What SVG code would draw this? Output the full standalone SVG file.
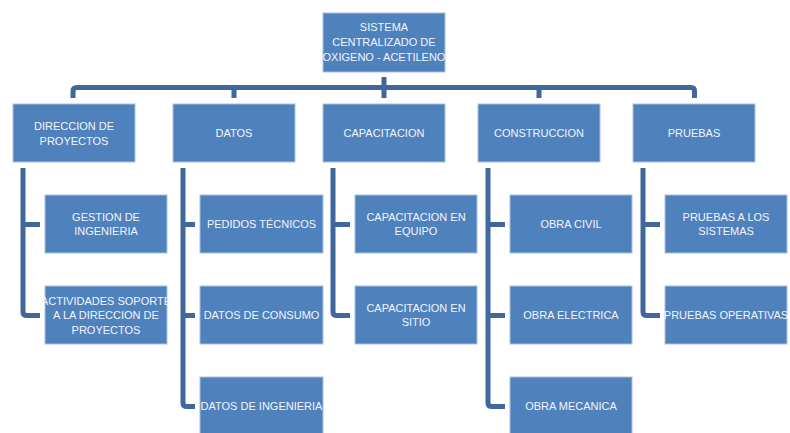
<svg xmlns="http://www.w3.org/2000/svg" width="790" height="433" viewBox="0 0 790 433">
<style>
.b{fill:#4F81BD;stroke:#A9C0DF;stroke-width:1}
.t{font-family:"Liberation Sans",Arial,sans-serif;font-size:11px;fill:#F2F5FA;text-anchor:middle}
.c{fill:none;stroke:#41689C;stroke-width:5;stroke-linejoin:round}
</style>
<rect width="790" height="433" fill="#fff"/>
<g id="connectors">
<path class="c" d="M384 77V98"/>
<path class="c" d="M73 98V91Q73 87.5 77 87.5H691Q694.5 87.5 694.5 91V98"/>
<path class="c" d="M234 87.5V98M539 87.5V98"/>
<path class="c" d="M23 168V312Q23 315.5 27 315.5H40M23 224.5H40"/>
<path class="c" d="M183 168V403Q183 406.5 187 406.5H195M183 224.5H195M183 315.5H195"/>
<path class="c" d="M333 168V312Q333 315.5 337 315.5H350M333 224.5H350"/>
<path class="c" d="M488 168V403Q488 406.5 492 406.5H505M488 224.5H505M488 315.5H505"/>
<path class="c" d="M643 168V312Q643 315.5 647 315.5H660M643 224.5H660"/>
</g>
<g id="root"><rect class="b" x="323" y="13" width="122" height="59"/><text class="t" x="384" y="31">SISTEMA</text><text class="t" x="384" y="46">CENTRALIZADO DE</text><text class="t" x="384" y="61">OXIGENO - ACETILENO</text></g>
<g id="direccion"><rect class="b" x="13" y="104" width="122" height="58"/><text class="t" x="74" y="130">DIRECCION DE</text><text class="t" x="74" y="145">PROYECTOS</text></g>
<g id="datos"><rect class="b" x="173" y="104" width="122" height="58"/><text class="t" x="234" y="137">DATOS</text></g>
<g id="capacitacion"><rect class="b" x="323" y="104" width="122" height="58"/><text class="t" x="384" y="137">CAPACITACION</text></g>
<g id="construccion"><rect class="b" x="478" y="104" width="122" height="58"/><text class="t" x="539" y="137">CONSTRUCCION</text></g>
<g id="pruebas"><rect class="b" x="633" y="104" width="122" height="58"/><text class="t" x="694" y="137">PRUEBAS</text></g>
<g id="gestion"><rect class="b" x="45" y="195" width="122" height="58"/><text class="t" x="106" y="221">GESTION DE</text><text class="t" x="106" y="235">INGENIERIA</text></g>
<g id="actividades"><rect class="b" x="45" y="286" width="122" height="58"/><text class="t" x="106" y="305">ACTIVIDADES SOPORTE</text><text class="t" x="106" y="319">A LA DIRECCION DE</text><text class="t" x="106" y="334">PROYECTOS</text></g>
<g id="pedidos"><rect class="b" x="200" y="195" width="123" height="58"/><text class="t" x="261.5" y="228">PEDIDOS TÉCNICOS</text></g>
<g id="consumo"><rect class="b" x="200" y="286" width="123" height="58"/><text class="t" x="261.5" y="319">DATOS DE CONSUMO</text></g>
<g id="datosing"><rect class="b" x="200" y="377" width="123" height="58"/><text class="t" x="261.5" y="410">DATOS DE INGENIERIA</text></g>
<g id="capequipo"><rect class="b" x="355" y="195" width="122" height="58"/><text class="t" x="416" y="221">CAPACITACION EN</text><text class="t" x="416" y="235">EQUIPO</text></g>
<g id="capsitio"><rect class="b" x="355" y="286" width="122" height="58"/><text class="t" x="416" y="312">CAPACITACION EN</text><text class="t" x="416" y="326">SITIO</text></g>
<g id="civil"><rect class="b" x="510" y="195" width="122" height="58"/><text class="t" x="571" y="228">OBRA CIVIL</text></g>
<g id="electrica"><rect class="b" x="510" y="286" width="122" height="58"/><text class="t" x="571" y="319">OBRA ELECTRICA</text></g>
<g id="mecanica"><rect class="b" x="510" y="377" width="122" height="58"/><text class="t" x="571" y="410">OBRA MECANICA</text></g>
<g id="sistemas"><rect class="b" x="665" y="195" width="122" height="58"/><text class="t" x="726" y="221">PRUEBAS A LOS</text><text class="t" x="726" y="235">SISTEMAS</text></g>
<g id="operativas"><rect class="b" x="665" y="286" width="122" height="58"/><text class="t" x="726" y="319">PRUEBAS OPERATIVAS</text></g>
</svg>
